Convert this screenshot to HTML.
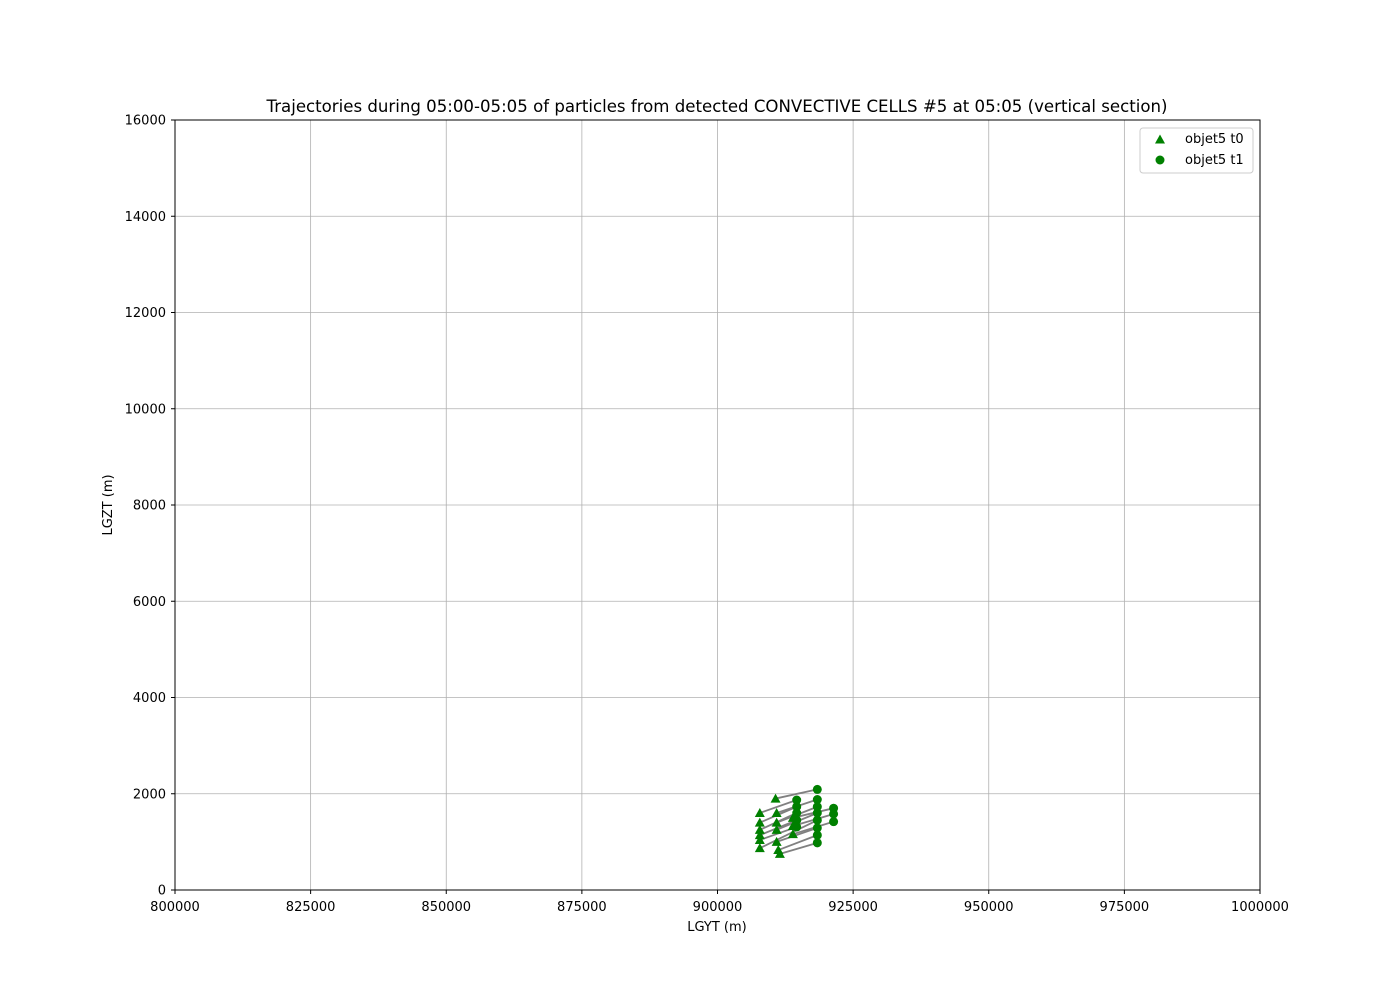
<!DOCTYPE html>
<html><head><meta charset="utf-8"><style>
body{margin:0;background:#fff;font-family:"DejaVu Sans","Liberation Sans",sans-serif}
</style></head><body>
<svg id="chart" width="1400" height="1000" xmlns="http://www.w3.org/2000/svg" font-family="DejaVu Sans, Liberation Sans, sans-serif">
<rect width="1400" height="1000" fill="#fff"/>
<g id="grid"></g>
<g id="lines"></g>
<g id="marks"></g>
<rect x="175" y="120" width="1085" height="770" fill="none" stroke="#000" stroke-width="1"/>
<g id="ticks"></g>
<text x="717" y="112" text-anchor="middle" font-size="16.6">Trajectories during 05:00-05:05 of particles from detected CONVECTIVE CELLS #5 at 05:05 (vertical section)</text>
<text x="717" y="931" text-anchor="middle" font-size="13">LGYT (m)</text>
<text transform="translate(112,505) rotate(-90)" text-anchor="middle" font-size="13">LGZT (m)</text>
<g>
<rect x="1140" y="128" width="113" height="45" rx="3" fill="#fff" stroke="#ccc"/>
<polygon points="1160,134.5 1165,143.5 1155,143.5" fill="#008000"/>
<text x="1185" y="143" font-size="13">objet5 t0</text>
<circle cx="1160" cy="160" r="4.5" fill="#008000"/>
<text x="1185" y="164" font-size="13">objet5 t1</text>
</g>
</svg>
<script>
const xTicks=[800000,825000,850000,875000,900000,925000,950000,975000,1000000];
const yTicks=[0,2000,4000,6000,8000,10000,12000,14000,16000];
const t0X=[907800,907800,907800,907800,907800,907800,910700,910900,910900,910900,910900,911200,911500,913900,913900,913900];
const t0Y=[1600,1400,1250,1140,1040,870,1900,1600,1400,1250,1000,830,750,1500,1330,1160];
const t1X=[914600,914600,914600,914600,914600,918400,918400,918400,918400,918400,918400,918400,918400,921400,921400,921400];
const t1Y=[1870,1730,1600,1450,1310,1450,2090,1880,1730,1600,1290,1140,980,1700,1580,1420];
const X=v=>175+(v-800000)/200000*1085;
const Y=v=>890-v/16000*770;
const NS='http://www.w3.org/2000/svg';
function mk(tag,parent,attrs){const e=document.createElementNS(NS,tag);for(const k in attrs)e.setAttribute(k,attrs[k]);parent.appendChild(e);return e;}
const g=document.getElementById('grid'),tk=document.getElementById('ticks'),ln=document.getElementById('lines'),mr=document.getElementById('marks');
xTicks.forEach(v=>{
 const l=mk('line',g,{x1:X(v),x2:X(v),y1:120,y2:890,stroke:'#b0b0b0','stroke-width':0.8});
 
 
 mk('line',tk,{x1:X(v),x2:X(v),y1:890,y2:894,stroke:'#000'});
 const t=mk('text',tk,{x:X(v),y:911,'text-anchor':'middle','font-size':13});
 
 
 t.textContent=v;
});
yTicks.forEach(v=>{
 const l=mk('line',g,{x1:175,x2:1260,y1:Y(v),y2:Y(v),stroke:'#b0b0b0','stroke-width':0.8});
 
 
 mk('line',tk,{x1:171,x2:175,y1:Y(v),y2:Y(v),stroke:'#000'});
 const t=mk('text',tk,{x:166,y:Y(v)+4.5,'text-anchor':'end','font-size':13});
 
 
 t.textContent=v;
});
t0X.forEach((v,i)=>{
 const l=mk('line',ln,{x1:X(v),y1:Y(t0Y[i]),x2:X(t1X[i]),y2:Y(t1Y[i]),stroke:'#808080','stroke-width':1.8});
 
 
});
t0X.forEach((v,i)=>{
 const x=X(v),y=Y(t0Y[i]);
 const p=mk('polygon',mr,{points:`${x},${y-5} ${x+5},${y+4} ${x-5},${y+4}`,fill:'#008000'});
 
 
});
t1X.forEach((v,i)=>{
 const c=mk('circle',mr,{cx:X(v),cy:Y(t1Y[i]),r:4.5,fill:'#008000'});
 
 
});
</script>
</body></html>
